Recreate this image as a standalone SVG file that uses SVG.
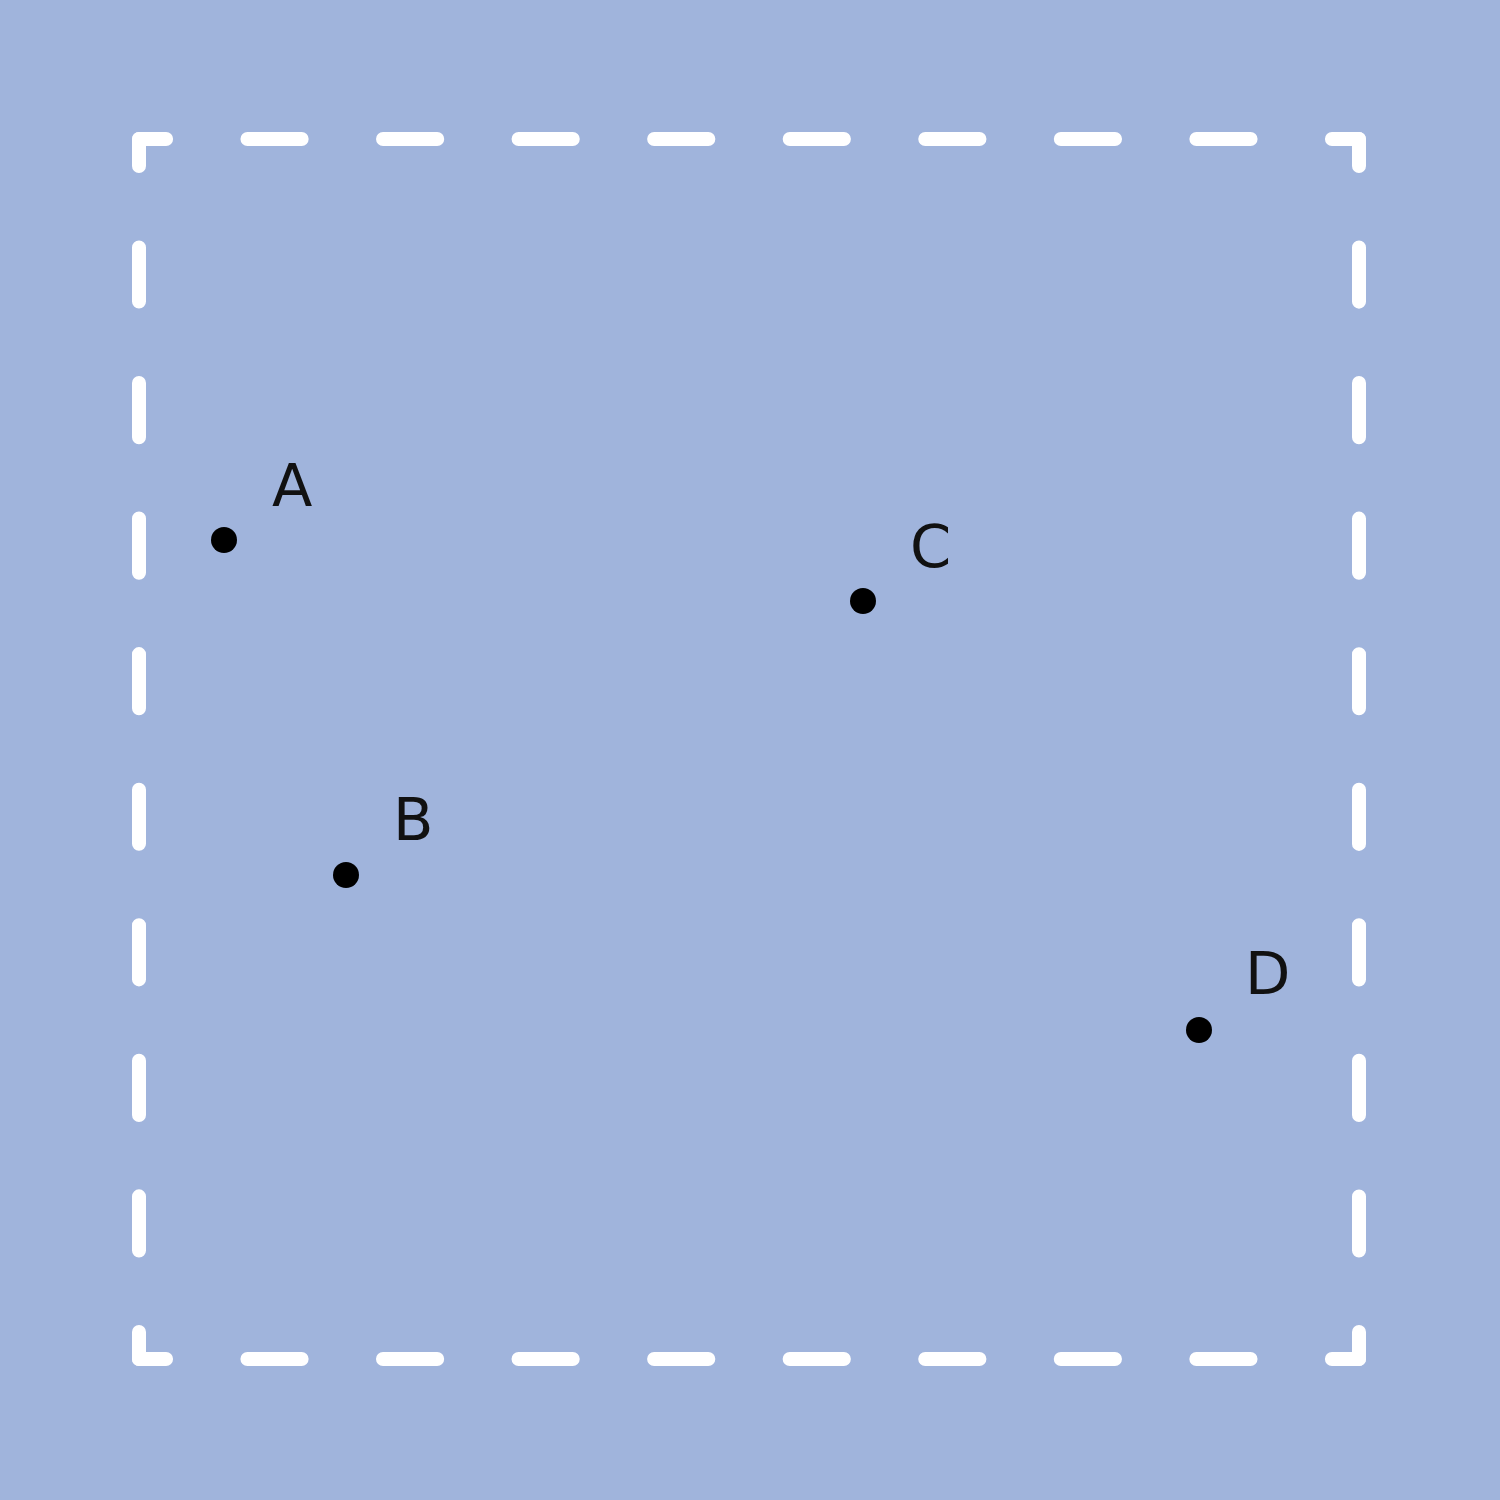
<svg xmlns="http://www.w3.org/2000/svg" width="1500" height="1500" viewBox="0 0 1500 1500">
<style>
.frame{fill:none;stroke:#ffffff;stroke-width:14;stroke-linecap:round;stroke-dasharray:54.2 81.36;stroke-dashoffset:27.1}
.dot{fill:#000000}
.lbl{font-family:"DejaVu Sans",sans-serif;font-size:59px;fill:#111111}
</style>
<rect x="0" y="0" width="1500" height="1500" fill="#a0b4dc"/>
<g id="frame">
<line class="frame" x1="139" y1="139" x2="1359" y2="139"/>
<line class="frame" x1="1359" y1="139" x2="1359" y2="1359"/>
<line class="frame" x1="1359" y1="1359" x2="139" y2="1359"/>
<line class="frame" x1="139" y1="1359" x2="139" y2="139"/>
</g>
<g id="connectors"></g>
<g id="A"><circle class="dot" cx="224" cy="540" r="13"/><text class="lbl" x="272" y="506">A</text></g>
<g id="B"><circle class="dot" cx="346" cy="875" r="13"/><text class="lbl" x="393" y="840">B</text></g>
<g id="C"><circle class="dot" cx="863" cy="601" r="13"/><text class="lbl" x="910" y="567">C</text></g>
<g id="D"><circle class="dot" cx="1199" cy="1030" r="13"/><text class="lbl" x="1245" y="994">D</text></g>
</svg>
